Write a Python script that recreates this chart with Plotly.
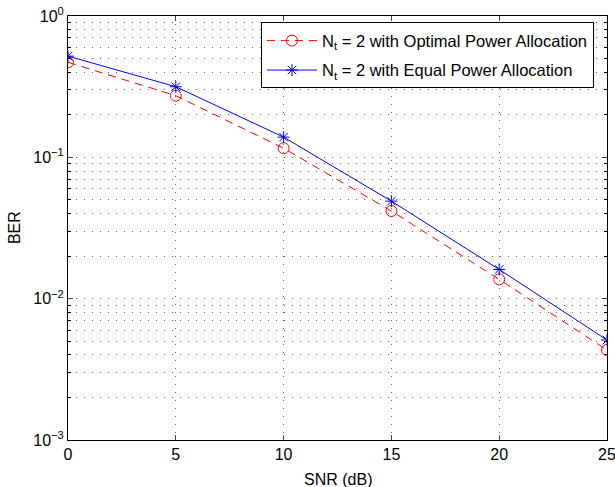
import plotly.graph_objects as go

snr = [0, 5, 10, 15, 20, 25]
ber_optimal = [0.47, 0.273, 0.116, 0.0417, 0.0137, 0.00433]
ber_equal = [0.52, 0.316, 0.139, 0.049, 0.0161, 0.0051]

x_ticks = [0, 5, 10, 15, 20, 25]
y_ticks = [1e-3, 1e-2, 1e-1, 1e0]
y_ticktext = ["10<sup>−3</sup>", "10<sup>−2</sup>", "10<sup>−1</sup>", "10<sup>0</sup>"]
y_minor = [m * 10 ** e for e in (-3, -2, -1) for m in range(2, 10)]

fig = go.Figure()

fig.add_trace(go.Scatter(
    x=snr, y=ber_optimal, mode="lines+markers",
    name="N<sub>t</sub> = 2 with Optimal Power Allocation", legendgroup="opt",
    line=dict(color="red", width=1, dash="8px,6px"),
    marker=dict(symbol="circle-open", size=11, color="red", line=dict(width=1)),
))
fig.add_trace(go.Scatter(
    x=snr, y=ber_equal, mode="lines+markers",
    name="N<sub>t</sub> = 2 with Equal Power Allocation", legendgroup="eq",
    line=dict(color="blue", width=1),
    marker=dict(symbol="asterisk-open", size=10, color="blue", line=dict(width=1, color="blue")),
))

grid_dash = "1px,7px"
grid_col = "#666"
fig.update_xaxes(
    range=[0, 25], tickvals=x_ticks, ticks="inside", ticklen=5,
    showline=True, linecolor="black", linewidth=1, mirror="ticks",
    showgrid=True, gridcolor=grid_col, griddash=grid_dash, gridwidth=1,
    zeroline=False, tickfont=dict(size=16), automargin=False,
    ticklabeloverflow="allow",
)
fig.update_yaxes(
    type="log", range=[-3, 0], tickvals=y_ticks, ticktext=y_ticktext,
    ticks="inside", ticklen=5,
    showline=True, linecolor="black", linewidth=1, mirror="ticks",
    showgrid=True, gridcolor=grid_col, griddash=grid_dash, gridwidth=1,
    minor=dict(tickvals=y_minor, ticks="inside", ticklen=3, tickcolor="black",
               showgrid=True, gridcolor=grid_col, griddash=grid_dash, gridwidth=1),
    zeroline=False, tickfont=dict(size=16), automargin=False,
    ticklabeloverflow="allow",
)

# axis titles
fig.add_annotation(text="SNR (dB)", xref="paper", yref="paper", x=0.5, y=-0.092,
                   showarrow=False, yanchor="middle", font=dict(size=16))
fig.add_annotation(text="BER", xref="paper", yref="paper", x=-0.1, y=0.5,
                   showarrow=False, textangle=-90, xanchor="center", font=dict(size=16))

fig.update_layout(
    width=615, height=487,
    margin=dict(l=68, r=8, t=16, b=47),
    plot_bgcolor="white", paper_bgcolor="white",
    font=dict(family="Liberation Sans, Arial, sans-serif", size=16, color="black"),
    legend=dict(
        x=0.358, y=0.985, xanchor="left", yanchor="top",
        bgcolor="white", bordercolor="black", borderwidth=1,
        font=dict(size=16.5), itemwidth=50, tracegroupgap=5,
    ),
)

fig.write_html("out.html", config={"displayModeBar": False},
               post_script="document.body.style.margin='0';")
